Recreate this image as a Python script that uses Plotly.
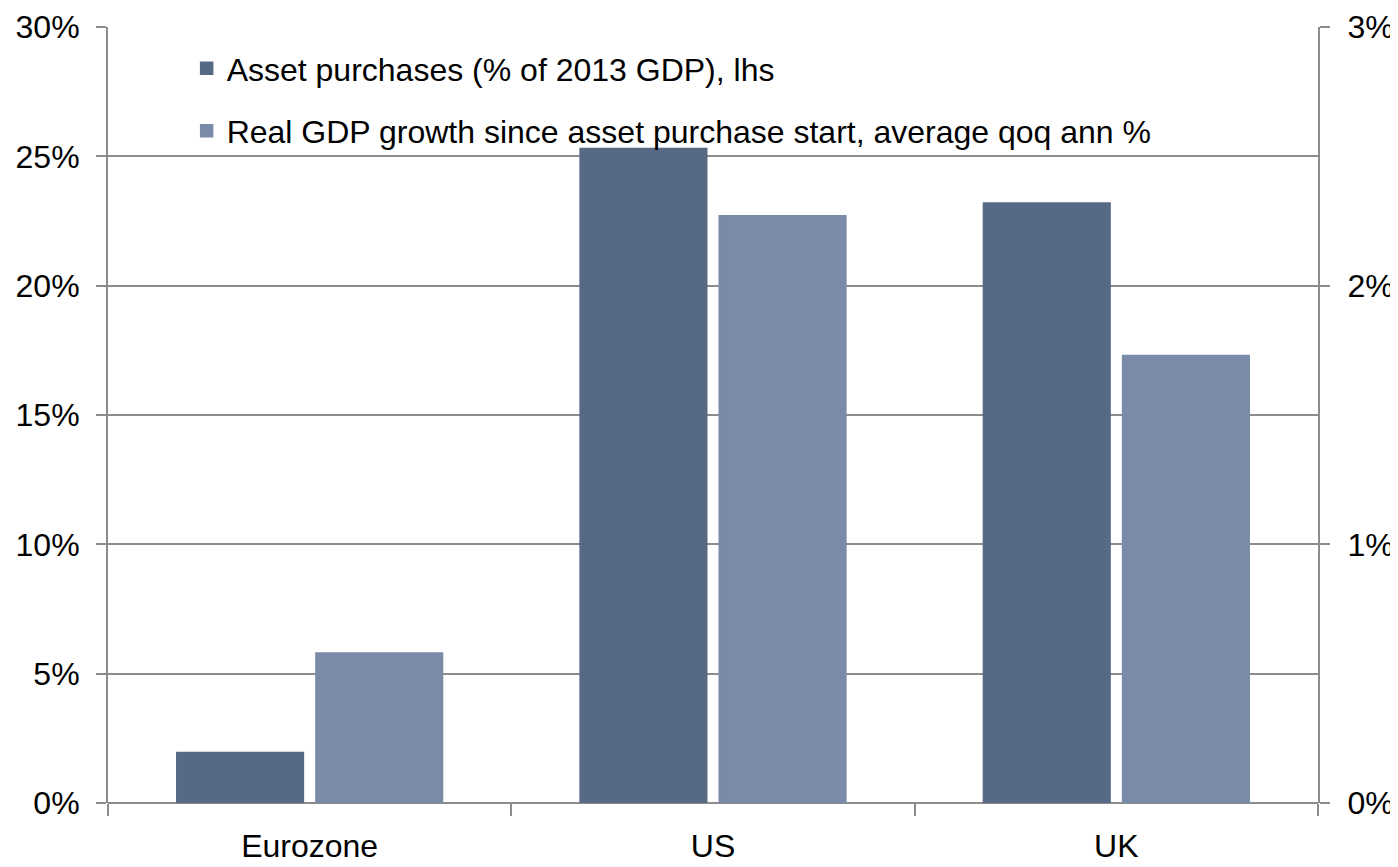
import plotly.graph_objects as go

categories = ["Eurozone", "US", "UK"]
asset_purchases = [1.95, 25.3, 23.2]      # % of 2013 GDP, lhs
gdp_growth = [0.58, 2.27, 1.73]           # average qoq ann %, rhs
name_assets = "Asset purchases (% of 2013 GDP), lhs"
name_gdp = "Real GDP growth since asset purchase start, average qoq ann %"

dark = "#566a85"
light = "#798ba8"
grid = "#8c8c8c"
font_family = "Liberation Sans, Arial, sans-serif"

fig = go.Figure()
fig.add_trace(go.Bar(x=categories, y=asset_purchases, name=name_assets,
                     marker=dict(color=dark, line=dict(width=1.5, color=dark)),
                     offsetgroup="a", legendgroup="a", yaxis="y"))
fig.add_trace(go.Bar(x=categories, y=gdp_growth, name=name_gdp,
                     marker=dict(color=light, line=dict(width=1.5, color=light)),
                     offsetgroup="b", legendgroup="b", yaxis="y2"))

# page body has an 8px margin, so the figure is sized to fit the 1398x867 window
fig.update_layout(
    width=1390, height=859,
    margin=dict(l=100, r=80, t=19, b=64, autoexpand=False),
    paper_bgcolor="white", plot_bgcolor="white",
    font=dict(family=font_family, size=32, color="black"),
    barmode="group", bargap=0.31, bargroupgap=0.09,
    showlegend=True,
    legend=dict(x=0.065, y=0.982, xanchor="left", yanchor="top",
                bgcolor="rgba(0,0,0,0)", font=dict(size=32),
                tracegroupgap=18, traceorder="grouped"),
    xaxis=dict(showline=False, ticks="outside", tickson="boundaries",
               ticklen=12, tickwidth=2, tickcolor=grid, automargin=False,
               showgrid=False, ticklabelstandoff=21),
    yaxis=dict(range=[0, 30], dtick=5, ticksuffix="%", automargin=False,
               showgrid=True, gridcolor=grid, gridwidth=2,
               showline=True, linecolor=grid, linewidth=2,
               ticks="outside", ticklen=10, tickwidth=2, tickcolor=grid,
               zeroline=True, zerolinecolor=grid, zerolinewidth=2,
               ticklabelstandoff=10),
    yaxis2=dict(range=[0, 3], dtick=1, ticksuffix="%", overlaying="y",
                side="right", showgrid=False, automargin=False,
                showline=True, linecolor=grid, linewidth=2,
                ticks="outside", ticklen=10, tickwidth=2, tickcolor=grid,
                zeroline=False, ticklabelstandoff=11),
)

fig.write_html("out.html")
